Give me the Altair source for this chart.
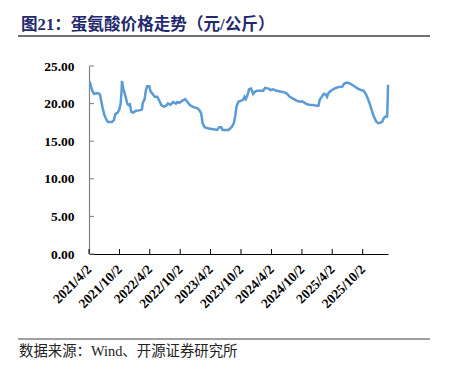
import altair as alt
import pandas as pd

# ---- data ----
dates = [
    "2021-04-02", "2021-04-08", "2021-04-20", "2021-05-02", "2021-05-26", "2021-06-07",
    "2021-06-13", "2021-06-23", "2021-07-03", "2021-07-17", "2021-07-25", "2021-08-18",
    "2021-08-30", "2021-09-07", "2021-09-21", "2021-10-01", "2021-10-09", "2021-10-15",
    "2021-10-17", "2021-10-25", "2021-11-02", "2021-11-10", "2021-11-18", "2021-11-26",
    "2021-12-04", "2021-12-12", "2021-12-24", "2022-01-09", "2022-01-29", "2022-02-14",
    "2022-02-18", "2022-03-02", "2022-03-10", "2022-03-18", "2022-03-30", "2022-04-07",
    "2022-04-19", "2022-05-01", "2022-05-17", "2022-05-29", "2022-06-10", "2022-06-26",
    "2022-07-08", "2022-07-20", "2022-08-05", "2022-08-21", "2022-09-06", "2022-09-14",
    "2022-09-26", "2022-10-16", "2022-11-01", "2022-11-13", "2022-11-29", "2022-12-15",
    "2022-12-27", "2023-01-12", "2023-01-24", "2023-02-05", "2023-02-13", "2023-02-25",
    "2023-03-21", "2023-04-20", "2023-05-12", "2023-05-24", "2023-06-05", "2023-06-13",
    "2023-07-19", "2023-08-08", "2023-08-20", "2023-08-28", "2023-09-05", "2023-09-17",
    "2023-10-03", "2023-10-15", "2023-10-23", "2023-10-31", "2023-11-08", "2023-11-20",
    "2023-12-02", "2023-12-14", "2023-12-26", "2024-01-07", "2024-01-27", "2024-02-12",
    "2024-02-24", "2024-03-15", "2024-03-27", "2024-04-12", "2024-05-02", "2024-05-26",
    "2024-06-19", "2024-07-05", "2024-07-21", "2024-08-10", "2024-08-30", "2024-09-19",
    "2024-10-05", "2024-10-25", "2024-11-14", "2024-12-08", "2025-01-01", "2025-01-09",
    "2025-01-17", "2025-01-29", "2025-02-10", "2025-02-22", "2025-03-02", "2025-03-10",
    "2025-03-26", "2025-04-15", "2025-05-09", "2025-06-02", "2025-06-14", "2025-07-04",
    "2025-07-24", "2025-08-13", "2025-09-02", "2025-09-22", "2025-10-08", "2025-10-20",
    "2025-11-01", "2025-11-13", "2025-11-25", "2025-12-07", "2025-12-23", "2026-01-04",
    "2026-01-16", "2026-01-28", "2026-02-05", "2026-02-17", "2026-02-26", "2026-03-01",
    "2026-03-03",
]
prices = [
    22.8, 22.8, 21.8, 21.3, 21.4, 21.2,
    20.5, 19.4, 18.5, 17.8, 17.55, 17.55,
    17.8, 18.6, 18.8, 19.2, 20.0, 21.8,
    23.0, 22.0, 21.4, 20.7, 20.0, 19.8,
    19.9, 18.9, 18.8, 19.05, 19.1, 19.2,
    20.0, 20.6, 21.8, 22.3, 22.3, 21.6,
    21.3, 20.9, 20.9, 20.4, 19.8, 19.6,
    19.7, 20.0, 19.85, 20.2, 20.0, 20.2,
    20.1, 20.4, 20.6, 20.25, 19.8, 19.6,
    19.5, 19.4, 19.15, 18.7, 17.4, 16.85,
    16.7, 16.6, 16.5, 16.85, 16.85, 16.5,
    16.5, 16.9, 17.4, 18.3, 19.6, 20.25,
    20.4, 20.5, 20.9, 20.6, 21.0, 21.9,
    22.0, 21.3, 21.6, 21.7, 21.7, 21.7,
    22.1, 22.0, 21.8, 21.9, 21.7, 21.6,
    21.5, 21.3, 20.9, 20.65, 20.4, 20.25,
    20.3, 20.0, 19.85, 19.8, 19.7, 19.7,
    20.5, 20.9, 21.3, 21.2, 20.9, 21.4,
    21.7, 22.0, 22.2, 22.25, 22.7, 22.8,
    22.6, 22.3, 22.0, 21.8, 21.7, 21.3,
    20.7, 20.0, 19.15, 18.3, 17.6, 17.4,
    17.45, 17.6, 18.05, 18.3, 18.3, 20.5,
    22.5,
]
tick_dates = [
    "2021-04-02", "2021-10-02", "2022-04-02", "2022-10-02", "2023-04-02",
    "2023-10-02", "2024-04-02", "2024-10-02", "2025-04-02", "2025-10-02",
]
y_ticks = [0, 5, 10, 15, 20, 25]
domain_start = "2021-04-02"
domain_end = "2026-03-03"
title_text = ["图21：蛋氨酸价格走势（元/公斤）"]
source_text = ["数据来源：Wind、开源证券研究所"]

# ---- helpers ----
def dt(s):
    y, m, d = (int(p) for p in s.split("-"))
    return alt.DateTime(year=y, month=m, date=d, utc=True)

df = pd.DataFrame({"date": dates, "price": prices})
ticks_df = pd.DataFrame({"date": tick_dates})
yt_df = pd.DataFrame({"price": y_ticks})
one = pd.DataFrame({"k": [1]})

SERIF = "Liberation Serif, Times New Roman, Noto Sans CJK SC"

xscale = alt.Scale(type="utc", domain=[dt(domain_start), dt(domain_end)])
yscale = alt.Scale(domain=[0, 25], nice=False, zero=True)

xaxis = alt.Axis(
    values=[dt(s) for s in tick_dates],
    labelExpr="utcFormat(datum.value, '%Y/%-m/%-d')",
    labelAngle=-45, labelAlign="right", labelBaseline="middle",
    labelFont=SERIF, labelFontSize=13.5, labelFontWeight="bold", labelColor="black",
    labelPadding=13, ticks=False, domainColor="black", domainWidth=1,
    grid=False, title=None, labelOverlap=False, labelFlush=False,
)
yaxis = alt.Axis(
    values=y_ticks, format=".2f",
    labelFont=SERIF, labelFontSize=13.5, labelFontWeight="bold", labelColor="black",
    labelPadding=15, ticks=False, domainColor="#808080", domainWidth=1.2,
    grid=False, title=None,
)

line = alt.Chart(df).mark_line(color="#5B9BD5", strokeWidth=2.5).encode(
    x=alt.X("date:T", scale=xscale, axis=xaxis),
    y=alt.Y("price:Q", scale=yscale, axis=yaxis),
)

xticks = alt.Chart(ticks_df).mark_rule(color="black", strokeWidth=1).encode(
    x=alt.X("date:T", scale=xscale, axis=xaxis),
    y=alt.value(183), y2=alt.value(188),
)

yticks = alt.Chart(yt_df).mark_rule(color="#808080", strokeWidth=1).encode(
    y=alt.Y("price:Q", scale=yscale, axis=yaxis),
    x=alt.value(0), x2=alt.value(5),
)

title = alt.Chart(pd.DataFrame({"t": title_text})).mark_text(
    align="left", baseline="middle", font=SERIF, fontSize=16.6,
    fontWeight="bold", color="#1F2A6E",
).encode(text="t:N", x=alt.value(-68), y=alt.value(-41))

title_rule = alt.Chart(one).mark_rule(color="#404040", strokeWidth=1.5).encode(
    x=alt.value(-71), x2=alt.value(341), y=alt.value(-30),
)

source_rule = alt.Chart(one).mark_rule(color="#404040", strokeWidth=1.2).encode(
    x=alt.value(-71), x2=alt.value(341), y=alt.value(273),
)

source = alt.Chart(pd.DataFrame({"t": source_text})).mark_text(
    align="left", baseline="middle", font=SERIF, fontSize=14.4, color="#222222",
).encode(text="t:N", x=alt.value(-70), y=alt.value(286))

chart = alt.layer(
    line, xticks, yticks, title, title_rule, source_rule, source
).properties(
    width=299, height=188,
    autosize=alt.AutoSizeParams(type="none"),
    padding={"left": 81, "top": 58, "right": 50, "bottom": 112},
).configure_view(stroke=None)

chart.save("out.html", embed_options={"renderer": "svg", "actions": False})
